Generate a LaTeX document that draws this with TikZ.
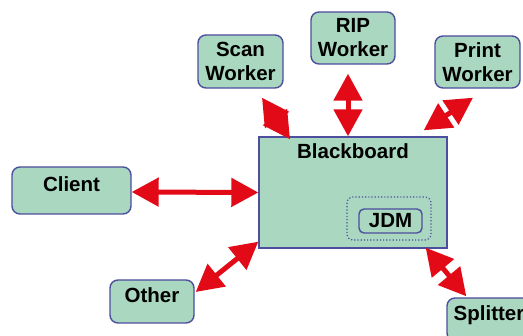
\documentclass[tikz,border=0pt]{standalone}
\usepackage{fontspec}
\setmainfont{Liberation Sans}
\usetikzlibrary{arrows.meta,calc}
\definecolor{boxfill}{RGB}{169,215,192}
\definecolor{boxline}{RGB}{78,78,158}
\definecolor{arrred}{RGB}{227,10,24}
\tikzset{
  wbox/.style={draw=boxline, line width=1.4pt, fill=boxfill, rounded corners=8pt,
    inner sep=0pt, align=center, font=\fontsize{20.5}{24}\selectfont\bfseries},
  onel/.style={text height=15pt, text depth=12pt},
  lbl/.style={inner sep=0pt, font=\fontsize{20.5}{24}\selectfont\bfseries},
  dbl/.style={draw=arrred, line width=5pt,
    {Triangle[length=27pt,width=28pt]}-{Triangle[length=27pt,width=28pt]}},
}
\begin{document}
\begin{tikzpicture}[x=1pt,y=-1pt]
\clip (0,0) rectangle (523,336);
\fill[white] (0,0) rectangle (523,336);
% Blackboard
\node[draw=boxline, line width=1.4pt, fill=boxfill, inner sep=0pt,
  minimum width=188pt, minimum height=111pt] (bb) at (353,192.5) {};
\node[lbl] (bbl) at (353,151) {Blackboard};
\draw[boxline, line width=1.2pt, dotted, rounded corners=6pt] (347,197) rectangle (431,240);
\node[wbox, rounded corners=5pt, minimum width=63pt, minimum height=24pt] (jdm) at (390.5,221) {JDM};
% workers
\node[wbox, minimum width=85pt, minimum height=53pt] (scan) at (240.5,61.5) {Scan\\Worker};
\node[wbox, minimum width=84pt, minimum height=52pt] (rip) at (353,38) {RIP\\Worker};
\node[wbox, minimum width=85pt, minimum height=52pt] (print) at (477.5,62) {Print\\Worker};
\node[wbox, onel, minimum width=119pt, minimum height=47pt] (client) at (71.5,190.5) {Client};
\node[wbox, onel, minimum width=84pt, minimum height=43pt] (other) at (152,301.5) {Other};
\node[wbox, onel, minimum width=84pt, minimum height=43pt] (split) at (489,319.5) {Splitter};
% arrows
\draw[dbl] ($(scan.south)+(21.5,9)$) -- ($(bb.north)+(-63,3)$);
\draw[dbl] ($(rip.south)+(-5,9)$) -- ($(bb.north)+(-5,0)$);
\draw[dbl] ($(print.south)+(-4.5,9)$) -- ($(bb.north east)+(-24,-6)$);
\draw[dbl] ($(client.east)+(0,1.5)$) -- ($(bb.west)+(0,0)$);
\draw[dbl] ($(other.east)+(1,-9.5)$) -- ($(bb.south west)+(0,-7)$);
\draw[dbl] ($(bb.south east)+(-22,-1)$) -- ($(split.north west)+(20,-1)$);
\end{tikzpicture}
\end{document}
